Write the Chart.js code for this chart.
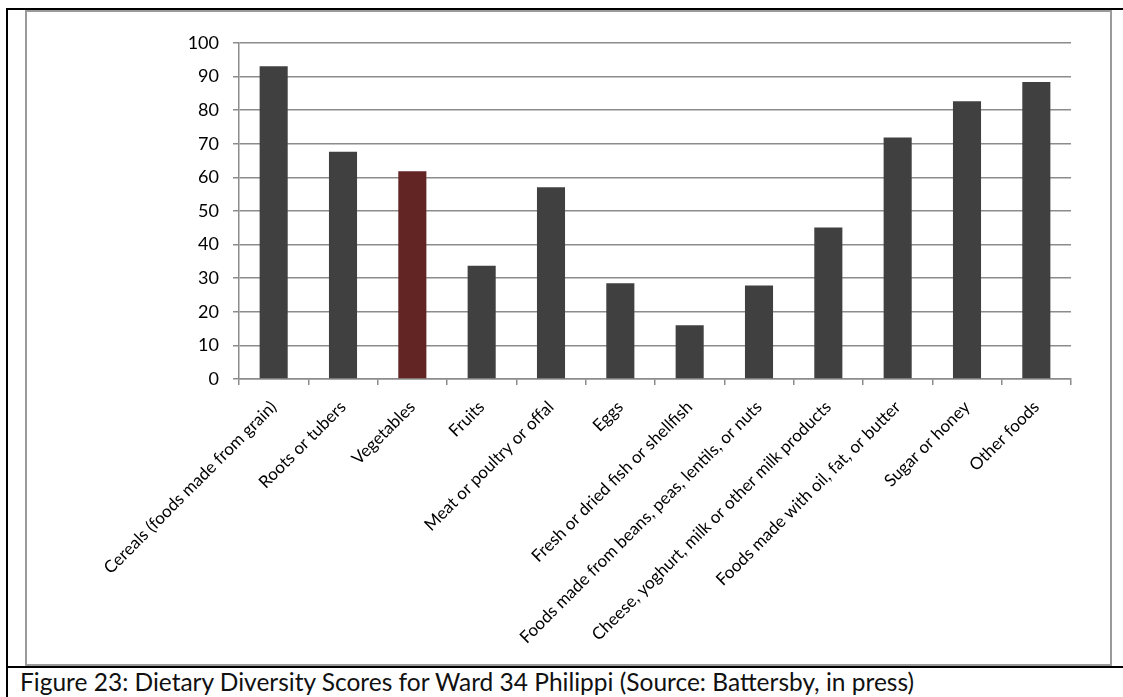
<!DOCTYPE html>
<html>
<head>
<meta charset="utf-8">
<script src="https://cdn.jsdelivr.net/npm/chart.js@4/dist/chart.umd.min.js"></script>
<style>
  html, body { margin: 0; padding: 0; background: #fff; width: 1123px; height: 697px; overflow: hidden; }
  #blackTop { position: absolute; left: 6px; top: 8px; width: 1117px; height: 2px; background: #000; }
  #blackLeft { position: absolute; left: 6px; top: 8px; width: 2px; height: 689px; background: #000; }
  #blackMid { position: absolute; left: 6px; top: 666px; width: 1117px; height: 2px; background: #000; }
  #box { position: absolute; left: 25px; top: 10px; width: 1083px; height: 652px; border: 2px solid #9a9a9a; background: #fff; }
  #wrap { position: absolute; left: 27px; top: 12px; width: 1082px; height: 651px; }
  #caption { position: absolute; left: 20px; top: 668px; font-family: Lato, "Open Sans", sans-serif; font-size: 24.5px; line-height: 27px; color: #111; white-space: nowrap; }
</style>
</head>
<body>
<div id="blackTop"></div>
<div id="blackLeft"></div>
<div id="box"></div>
<div id="wrap"><canvas id="c" width="1082" height="651"></canvas></div>
<div id="blackMid"></div>
<div id="caption">Figure 23: Dietary Diversity Scores for Ward 34 Philippi (Source: Battersby, in press)</div>
<script>
const categories = [
  "Cereals (foods made from grain)",
  "Roots or tubers",
  "Vegetables",
  "Fruits",
  "Meat or poultry or offal",
  "Eggs",
  "Fresh or dried fish or shellfish",
  "Foods made from beans, peas, lentils, or nuts",
  "Cheese, yoghurt, milk or other milk products",
  "Foods made with oil, fat, or butter",
  "Sugar or honey",
  "Other foods"
];
const scores = [93.1, 67.6, 61.8, 33.7, 57.1, 28.5, 16.0, 27.8, 45.1, 71.9, 82.7, 88.4];
const yTicks = [0, 10, 20, 30, 40, 50, 60, 70, 80, 90, 100];
const highlightCategory = "Vegetables";

const baseColor = "#404040";
const highlightColor = "#632523";

new Chart(document.getElementById("c"), {
  type: "bar",
  data: {
    labels: categories,
    datasets: [{
      data: scores,
      backgroundColor: categories.map(c => c === highlightCategory ? highlightColor : baseColor),
      borderWidth: 0,
      categoryPercentage: 1.0,
      barPercentage: 0.405
    }]
  },
  options: {
    responsive: false,
    animation: false,
    devicePixelRatio: 1,
    layout: { padding: { top: 31, right: 38, left: 0, bottom: 0 } },
    plugins: { legend: { display: false }, tooltip: { enabled: false }, title: { display: false } },
    scales: {
      x: {
        offset: true,
        grid: { display: true, drawOnChartArea: false, drawTicks: true, tickLength: 6, color: "#8c8c8c", lineWidth: 1.5, offset: true },
        border: { display: true, color: "#8c8c8c", width: 1.5 },
        ticks: {
          autoSkip: false,
          minRotation: 45,
          maxRotation: 45,
          padding: 12,
          color: "#000",
          font: { family: "Lato", size: 17 }
        },
        afterFit: s => { s.height = 284; }
      },
      y: {
        min: 0,
        max: 100,
        afterBuildTicks: s => { s.ticks = yTicks.map(v => ({ value: v })); },
        grid: { color: "#8c8c8c", lineWidth: 1.5, drawTicks: true, tickLength: 6 },
        border: { display: true, color: "#8c8c8c", width: 1.5 },
        ticks: { padding: 14, color: "#000", font: { family: "Lato", size: 18 } },
        afterFit: s => { s.width = 212; }
      }
    }
  }
});
</script>
</body>
</html>
